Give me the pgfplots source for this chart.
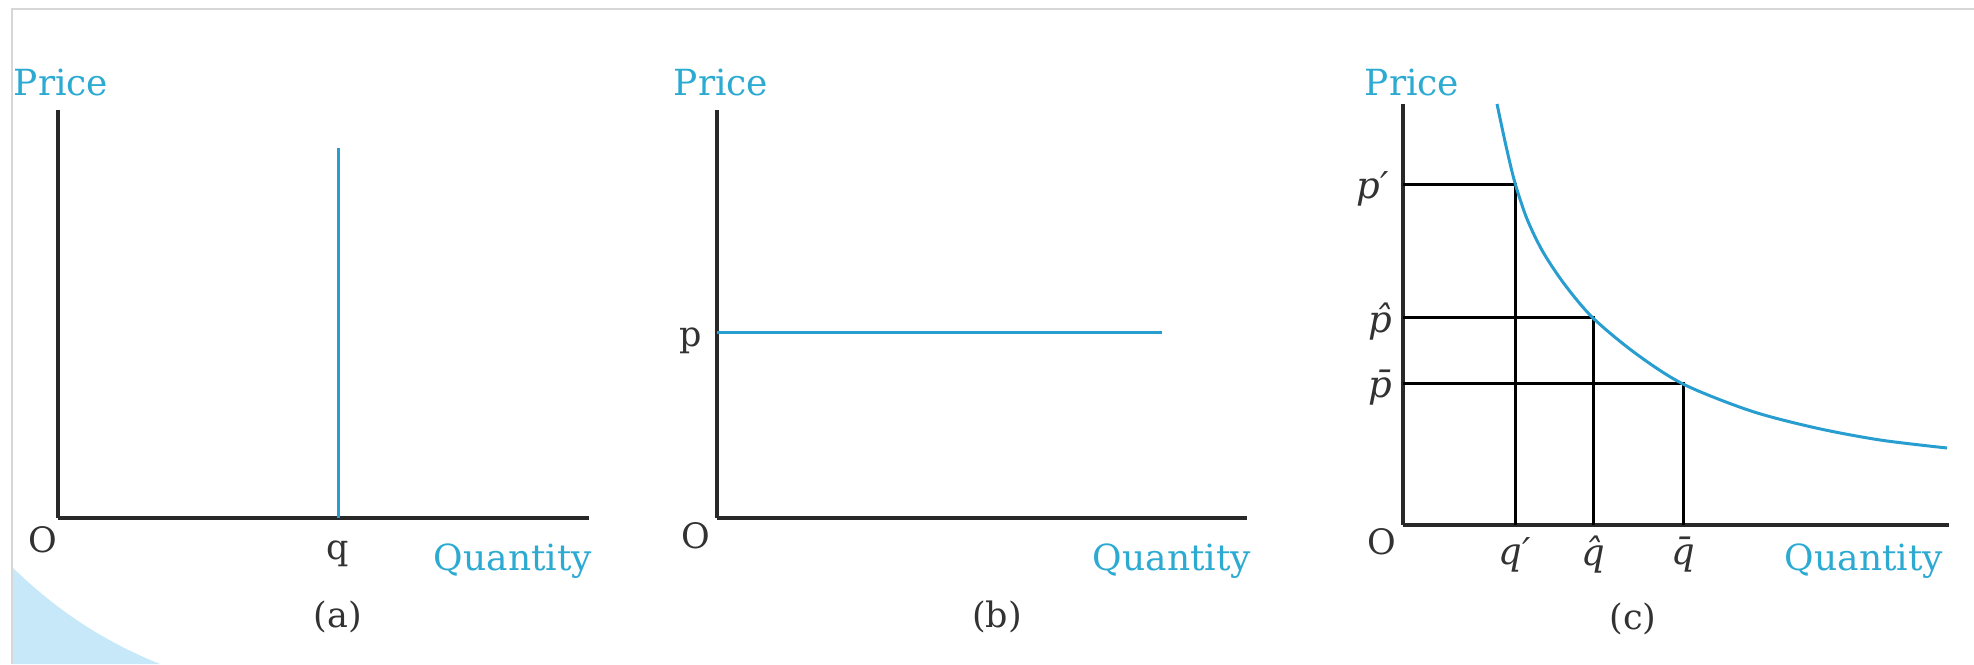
\documentclass[border=0pt]{standalone}
\usepackage{fontspec}
\setmainfont{DejaVu Serif}
\usepackage{pgfplots}
\pgfplotsset{compat=1.18}
\definecolor{lblue}{RGB}{40,158,208}
\definecolor{tblue}{RGB}{45,170,210}
\definecolor{axgray}{RGB}{40,40,40}
\definecolor{txgray}{RGB}{50,50,50}
\definecolor{deco}{RGB}{198,232,248}
\definecolor{frame}{RGB}{215,215,215}
\pgfplotsset{panel/.style={x=0.5pt,y=0.5pt,xmin=0,ymin=0,
  axis lines=left, axis line style={-,line width=2pt,color=axgray},
  xtick=\empty, ytick=\empty, clip=false, anchor=south west}}
\tikzset{bl/.style={text=tblue,font=\fontsize{18}{22}\selectfont},
  bk/.style={text=txgray,font=\fontsize{17.5}{21}\selectfont},
  bm/.style={text=txgray,font=\fontsize{18.5}{22}\selectfont\itshape}}
\begin{document}
\begin{tikzpicture}
\useasboundingbox (0,0) rectangle (987pt,332pt);
\fill[deco] (6pt,0) -- (6pt,48.5pt) .. controls (22pt,33pt) and (45pt,14pt) .. (80pt,0) -- cycle;
\draw[frame,line width=0.8pt] (6pt,0) -- (6pt,327.5pt) -- (987pt,327.5pt);
% panel (a)
\begin{axis}[panel, at={(29pt,73pt)}, xmax=531, ymax=408]
\addplot[lblue, line width=1.5pt] coordinates {(280,0) (280,370)};
\node[bl] at (3,435) {Price};
\node[bk] at (-15,-22) {O};
\node[bk] at (280,-36) {q};
\node[bl] at (455,-43) {Quantity};
\node[bk] at (280,-99) {(a)};
\end{axis}
% panel (b)
\begin{axis}[panel, at={(358.5pt,73pt)}, xmax=530, ymax=408]
\addplot[lblue, line width=1.5pt] coordinates {(0,185) (445,185)};
\node[bl] at (4,435) {Price};
\node[bk] at (-26,177) {p};
\node[bk] at (-21,-18) {O};
\node[bl] at (455,-43) {Quantity};
\node[bk] at (280,-99) {(b)};
\end{axis}
% panel (c)
\begin{axis}[panel, at={(701.5pt,69.5pt)}, xmax=546, ymax=421]
\addplot[black, line width=1.5pt] coordinates {(0,340) (112,340) (112,0)};
\addplot[black, line width=1.5pt] coordinates {(0,207) (190,207) (190,0)};
\addplot[black, line width=1.5pt] coordinates {(0,141) (280,141) (280,0)};
\addplot[lblue, line width=1.5pt, smooth] coordinates {
(94,421) (103,379) (112,342) (124,306) (140,273) (162,240) (190,207) (232,172)
(280,141) (348,114) (413,97) (477,85) (544,77)};
\node[bl] at (9,442) {Price};
\node[bk] at (-21,-17) {O};
\node[bm] at (112,-30) {q′};
\node[bm] at (190,-30) {q^^^^0302};
\node[bm] at (280,-30) {q^^^^0304};
\node[bm] at (-30,336) {p′};
\node[bm] at (-23,203) {p^^^^0302};
\node[bm] at (-23,137) {p^^^^0304};
\node[bl] at (461,-36) {Quantity};
\node[bk] at (230,-94) {(c)};
\end{axis}
\end{tikzpicture}
\end{document}
